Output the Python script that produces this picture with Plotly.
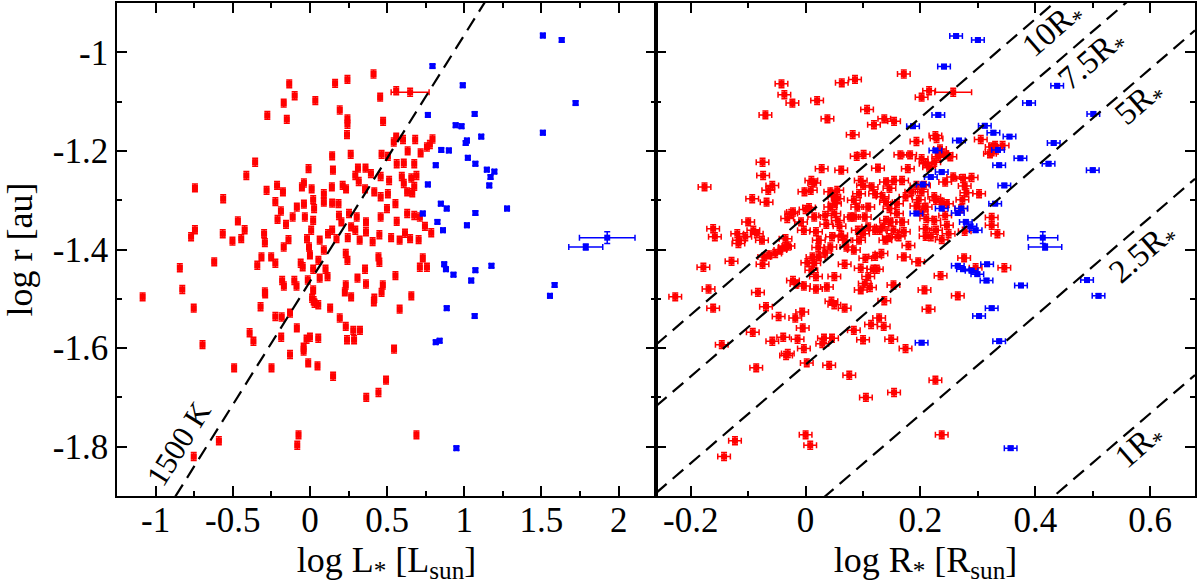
import math
import plotly.graph_objects as go

# ---------------- data: left panel (log L*) ----------------
L_red = [0.412,0.163,0.243,-0.134,-0.099,-0.170,0.035,0.455,0.559,
 -0.276,-0.150,0.193,0.243,0.243,0.474,0.240,-0.355,-0.412,-0.009,0.144,0.149,0.264,0.559,0.603,0.682,0.794,0.543,0.633,0.464,0.505,0.562,0.608,0.676,0.717,0.758,0.777,0.311,0.360,0.294,0.395,0.458,0.513,0.595,0.657,0.690,0.608,0.676,0.630,0.663,0.505,0.458,0.417,0.357,0.316,0.234,0.212,0.142,0.090,0.011,-0.039,-0.052,-0.213,-0.175,-0.281,-0.745,-0.562,-0.224,-0.085,-0.039,0.021,0.090,0.144,0.185,0.027,-0.188,-0.112,-0.033,0.021,-0.210,-0.155,-0.467,-0.423,-0.745,-0.770,-0.565,-0.502,-0.445,-0.297,-0.292,-0.139,-0.170,-0.019,0.008,0.063,0.117,0.144,0.172,0.188,0.253,0.303,0.363,0.204,0.267,0.294,0.322,0.245,0.363,0.406,0.450,0.458,0.499,0.554,0.562,0.526,0.581,0.616,0.649,0.704,0.676,0.630,0.712,0.745,0.786,0.731,0.712,0.758,0.554,0.444,0.450,0.472,0.357,0.363,0.232,0.243,0.308,0.232,0.226,0.267,0.101,0.114,0.090,0.055,0.021,-0.014,0.021,0.063,-0.060,-0.047,-0.006,0.000,-0.101,-0.087,-0.180,-0.169,-0.251,-0.224,-0.314,-0.341,-0.292,-0.620,-0.843,-0.827,-1.084,0.014,0.417,0.657,
 -0.753,-0.696,-0.491,-0.590,-0.753,-0.391,-0.366,-0.320,-0.290,-0.249,-0.224,-0.183,-0.186,-0.129,-0.129,-0.085,-0.041,-0.041,-0.022,0.000,-0.011,0.024,0.030,0.054,0.131,0.193,0.232,0.281,0.324,0.286,0.240,0.054,0.049,0.150,0.365,0.444,0.493,0.545,0.581,0.414,0.464,-0.074,-0.082,0.690]
r_red_L = [-1.044,-1.063,-1.055,-1.064,-1.088,-1.103,-1.098,-1.091,-1.078,
 -1.128,-1.136,-1.117,-1.135,-1.146,-1.140,-1.167,-1.223,-1.250,-1.236,-1.210,-1.239,-1.207,-1.172,-1.177,-1.177,-1.176,-1.182,-1.200,-1.207,-1.211,-1.226,-1.225,-1.226,-1.204,-1.192,-1.187,-1.235,-1.235,-1.250,-1.246,-1.252,-1.260,-1.252,-1.255,-1.250,-1.266,-1.272,-1.283,-1.285,-1.287,-1.293,-1.283,-1.277,-1.262,-1.277,-1.270,-1.273,-1.287,-1.277,-1.265,-1.273,-1.270,-1.283,-1.280,-1.275,-1.297,-1.303,-1.314,-1.308,-1.299,-1.304,-1.306,-1.307,-1.317,-1.322,-1.334,-1.334,-1.341,-1.339,-1.349,-1.342,-1.360,-1.360,-1.374,-1.368,-1.383,-1.378,-1.368,-1.386,-1.380,-1.395,-1.378,-1.361,-1.381,-1.368,-1.361,-1.378,-1.331,-1.327,-1.334,-1.344,-1.344,-1.354,-1.361,-1.381,-1.376,-1.364,-1.384,-1.370,-1.334,-1.317,-1.307,-1.343,-1.376,-1.381,-1.367,-1.378,-1.380,-1.331,-1.327,-1.334,-1.353,-1.366,-1.417,-1.436,-1.436,-1.453,-1.415,-1.426,-1.472,-1.440,-1.470,-1.408,-1.422,-1.458,-1.472,-1.486,-1.496,-1.440,-1.455,-1.401,-1.422,-1.440,-1.462,-1.482,-1.458,-1.428,-1.435,-1.395,-1.411,-1.463,-1.474,-1.463,-1.474,-1.415,-1.428,-1.415,-1.432,-1.486,-1.425,-1.437,-1.481,-1.496,-1.499,-1.499,-1.494,
 -1.519,-1.593,-1.640,-1.788,-1.820,-1.569,-1.586,-1.516,-1.490,-1.640,-1.536,-1.537,-1.578,-1.529,-1.613,-1.559,-1.606,-1.598,-1.582,-1.578,-1.630,-1.504,-1.509,-1.512,-1.519,-1.539,-1.556,-1.564,-1.564,-1.583,-1.583,-1.580,-1.636,-1.657,-1.700,-1.690,-1.665,-1.602,-1.521,-1.506,-1.487,-1.776,-1.797,-1.776]

L_red_wide = [0.649]
r_red_wide_L = [-1.081]
L_red_wide_err = [0.123]

L_blue = [1.509,1.631,0.794,0.990,1.721,0.764,1.067,0.944,0.982,1.110,1.017,1.009,1.509,0.851,0.900,1.023,1.072,0.815,1.146,1.195,1.170,1.162,0.764,0.848,0.886,1.277,0.731,1.072,0.826,1.017,0.862,0.870,0.881,0.930,1.072,1.176,1.045,1.585,1.555,0.886,1.067,0.815,0.840,0.949]
r_blue_L = [-0.966,-0.975,-1.028,-1.067,-1.103,-1.127,-1.125,-1.148,-1.150,-1.171,-1.179,-1.184,-1.163,-1.198,-1.199,-1.214,-1.226,-1.229,-1.238,-1.242,-1.253,-1.270,-1.268,-1.307,-1.317,-1.317,-1.327,-1.326,-1.344,-1.351,-1.361,-1.430,-1.440,-1.451,-1.442,-1.433,-1.463,-1.472,-1.494,-1.519,-1.535,-1.588,-1.585,-1.803]

L_blue_wide = [1.926, 1.787]
r_blue_wide_L = [-1.376, -1.395]
L_blue_wide_err = [0.18, 0.11]
r_blue_wide_err = [0.012, 0.006]

# ---------------- data: right panel (log R*) ----------------
R_red = [-0.042,-0.037,-0.023,-0.070,0.020,0.063,0.086,0.171,0.107,0.038,0.137,0.119,0.154,0.082,0.215,0.202,-0.075,-0.074,-0.176,-0.058,-0.065,-0.093,-0.068,-0.161,-0.158,-0.178,-0.129,-0.169,-0.083,-0.075,-0.072,-0.063,-0.053,-0.044,-0.036,-0.030,-0.035,-0.119,-0.116,-0.105,-0.100,-0.091,-0.085,-0.076,-0.117,-0.032,-0.025,-0.022,0.000,0.006,0.010,0.015,-0.002,0.009,0.028,0.062,-0.008,-0.003,0.015,0.018,0.023,0.034,0.036,0.043,0.050,0.051,0.055,0.056,0.043,0.050,0.056,0.059,0.046,0.043,0.034,0.023,0.015,0.010,0.018,0.003,0.012,0.022,-0.016,-0.022,-0.003,0.018,0.037,0.050,0.068,0.062,0.068,0.071,0.078,0.084,0.091,0.084,0.093,0.090,0.100,0.096,0.089,0.101,0.126,0.109,0.103,0.109,0.100,0.093,0.084,0.104,0.096,0.109,0.118,0.124,0.103,0.112,0.096,0.121,0.132,0.121,0.129,0.134,0.140,0.146,0.140,0.134,0.121,0.115,0.140,0.146,0.154,0.168,0.178,0.165,0.182,0.202,0.209,0.193,0.184,0.174,0.159,0.159,0.148,0.168,0.153,0.171,0.162,0.145,0.139,0.179,0.171,0.153,0.196,0.207,0.209,0.209,0.210,0.209,0.193,0.202,0.197,0.202,0.206,0.193,0.226,0.228,0.234,0.231,0.237,0.245,0.252,0.224,0.215,0.224,0.227,0.237,0.246,0.257,0.243,0.274,0.289,0.277,0.280,0.302,0.273,0.243,0.246,0.224,0.227,0.218,0.237,0.249,0.277,0.271,0.305,0.324,0.330,0.343,0.324,0.321,0.324,0.324,0.334,0.276,0.296,0.346,0.235,0.265,-0.227,
 -0.161,-0.146,-0.069,-0.047,-0.092,-0.058,-0.039,-0.018,-0.006,-0.005,-0.014,-0.003,-0.031,-0.034,-0.086,0.002,0.032,0.029,0.046,0.041,0.045,0.050,0.068,0.084,0.100,0.114,0.128,0.136,0.137,0.149,0.174,0.076,0.105,0.154,0.214,0.226,-0.123,-0.142,0.000,0.008,0.237]
r_red_R = [-1.064,-1.086,-1.103,-1.127,-1.098,-1.062,-1.055,-1.044,-1.116,-1.135,-1.135,-1.147,-1.140,-1.167,-1.078,-1.091,-1.223,-1.250,-1.273,-1.270,-1.280,-1.297,-1.304,-1.358,-1.374,-1.436,-1.424,-1.480,-1.487,-1.430,-1.415,-1.411,-1.408,-1.401,-1.395,-1.393,-1.378,-1.368,-1.381,-1.374,-1.344,-1.361,-1.368,-1.381,-1.388,-1.337,-1.327,-1.324,-1.319,-1.315,-1.260,-1.265,-1.283,-1.280,-1.236,-1.239,-1.344,-1.361,-1.334,-1.364,-1.381,-1.331,-1.349,-1.283,-1.293,-1.307,-1.280,-1.297,-1.314,-1.327,-1.341,-1.353,-1.374,-1.395,-1.407,-1.415,-1.428,-1.442,-1.455,-1.427,-1.415,-1.396,-1.470,-1.463,-1.474,-1.480,-1.476,-1.455,-1.430,-1.371,-1.381,-1.395,-1.334,-1.334,-1.361,-1.300,-1.287,-1.314,-1.270,-1.260,-1.211,-1.207,-1.235,-1.314,-1.334,-1.354,-1.368,-1.381,-1.401,-1.418,-1.438,-1.455,-1.440,-1.440,-1.469,-1.477,-1.482,-1.414,-1.408,-1.361,-1.361,-1.354,-1.341,-1.317,-1.304,-1.293,-1.287,-1.273,-1.263,-1.276,-1.260,-1.260,-1.236,-1.208,-1.208,-1.216,-1.226,-1.270,-1.283,-1.293,-1.307,-1.327,-1.344,-1.344,-1.361,-1.364,-1.374,-1.376,-1.381,-1.392,-1.415,-1.472,-1.425,-1.482,-1.373,-1.358,-1.337,-1.314,-1.312,-1.324,-1.299,-1.283,-1.270,-1.181,-1.169,-1.175,-1.196,-1.212,-1.205,-1.208,-1.212,-1.223,-1.233,-1.293,-1.300,-1.304,-1.307,-1.253,-1.263,-1.256,-1.254,-1.271,-1.285,-1.287,-1.299,-1.331,-1.351,-1.341,-1.361,-1.374,-1.380,-1.368,-1.363,-1.317,-1.177,-1.192,-1.189,-1.189,-1.202,-1.206,-1.335,-1.351,-1.368,-1.417,-1.437,-1.437,-1.453,-1.494,-1.496,
 -1.519,-1.593,-1.516,-1.536,-1.568,-1.586,-1.578,-1.539,-1.527,-1.559,-1.582,-1.601,-1.611,-1.615,-1.640,-1.630,-1.580,-1.591,-1.580,-1.635,-1.505,-1.512,-1.519,-1.564,-1.583,-1.552,-1.539,-1.556,-1.504,-1.582,-1.601,-1.655,-1.700,-1.690,-1.521,-1.665,-1.788,-1.820,-1.776,-1.797,-1.776]

R_red_wide = [0.257]
r_red_wide_R = [-1.081]
R_red_wide_err = [0.032]

R_blue = [0.262,0.300,0.241,0.438,0.389,0.231,0.501,0.187,0.312,0.327,0.355,0.267,0.432,0.335,0.226,0.374,0.423,0.337,0.500,0.237,0.218,0.204,0.346,0.330,0.237,0.271,0.193,0.265,0.279,0.287,0.296,0.265,0.274,0.289,0.299,0.316,0.315,0.375,0.490,0.510,0.324,0.302,0.202,0.337,0.357]
r_blue_R = [-0.967,-0.975,-1.029,-1.068,-1.103,-1.127,-1.125,-1.150,-1.149,-1.163,-1.171,-1.179,-1.184,-1.198,-1.199,-1.215,-1.226,-1.229,-1.239,-1.243,-1.253,-1.268,-1.270,-1.307,-1.317,-1.317,-1.327,-1.326,-1.344,-1.353,-1.361,-1.433,-1.440,-1.443,-1.450,-1.430,-1.463,-1.473,-1.462,-1.494,-1.519,-1.535,-1.589,-1.586,-1.803]

R_blue_wide = [0.413, 0.417]
r_blue_wide_R = [-1.376, -1.395]
R_blue_wide_err = [0.026, 0.029]

# reference lines
T_label = "1500 K"
logr_1500_at_L0 = -1.465          # log r of the 1500 K line at log L = 0
radius_multiples = [1, 2.5, 5, 7.5, 10]
radius_labels = ["1R<sub>*</sub>", "2.5R<sub>*</sub>", "5R<sub>*</sub>", "7.5R<sub>*</sub>", "10R<sub>*</sub>"]
radius_label_x = [0.583, 0.589, 0.583, 0.500, 0.431]
radius_label_y = [-1.800, -1.408, -1.104, -1.016, -0.955]
LOG_RSUN_AU = math.log10(0.00465047)

xL_range = [-1.25, 2.242]
xR_range = [-0.2605, 0.678]
y_range = [-1.9, -0.9]

FONT = "Liberation Serif"
RED = "#ff0000"
BLUE = "#0000ff"

fig = go.Figure()

def pts(x, y, color, xa, ya, ex, ey, exarr=None, eyarr=None):
    if exarr is None:
        errx = dict(type="constant", value=ex, color=color, thickness=1.5, width=3)
    else:
        errx = dict(type="data", array=exarr, color=color, thickness=1.5, width=3)
    if eyarr is None:
        erry = dict(type="constant", value=ey, color=color, thickness=1.5, width=3)
    else:
        erry = dict(type="data", array=eyarr, color=color, thickness=1.5, width=3)
    fig.add_trace(go.Scatter(x=x, y=y, mode="markers", xaxis=xa, yaxis=ya,
                             marker=dict(symbol="square", size=6, color=color, line=dict(width=0)),
                             error_x=errx, error_y=erry, showlegend=False, hoverinfo="x+y"))

# left panel
pts(L_red, r_red_L, RED, "x", "y", 0.012, 0.008)
pts(L_red_wide, r_red_wide_L, RED, "x", "y", None, 0.008, exarr=L_red_wide_err)
pts(L_blue, r_blue_L, BLUE, "x", "y", 0.012, 0.004)
pts(L_blue_wide, r_blue_wide_L, BLUE, "x", "y", None, None, exarr=L_blue_wide_err, eyarr=r_blue_wide_err)

# right panel
pts(R_red, r_red_R, RED, "x2", "y2", 0.011, 0.008)
pts(R_red_wide, r_red_wide_R, RED, "x2", "y2", None, 0.008, exarr=R_red_wide_err)
pts(R_blue, r_blue_R, BLUE, "x2", "y2", 0.011, 0.004)
pts(R_blue_wide, r_blue_wide_R, BLUE, "x2", "y2", None, None, exarr=R_blue_wide_err, eyarr=r_blue_wide_err)

DASH = "14px,8px"
# 1500 K line: log r = 0.5 log L + c
xl = [xL_range[0], xL_range[1]]
yl = [logr_1500_at_L0 + 0.5 * v for v in xl]
fig.add_trace(go.Scatter(x=xl, y=yl, mode="lines", xaxis="x", yaxis="y",
                         line=dict(color="black", width=2.2, dash=DASH),
                         showlegend=False, hoverinfo="skip"))

# k R* lines: log r = log R + log k + log(Rsun/au)
for k in radius_multiples:
    xr = [xR_range[0], xR_range[1]]
    yr = [v + math.log10(k) + LOG_RSUN_AU for v in xr]
    fig.add_trace(go.Scatter(x=xr, y=yr, mode="lines", xaxis="x2", yaxis="y2",
                             line=dict(color="black", width=2.2, dash=DASH),
                             showlegend=False, hoverinfo="skip"))

ann = [dict(x=-0.852, y=-1.793, xref="x", yref="y", text=T_label, showarrow=False,
            textangle=-58, font=dict(family=FONT, size=31, color="black"))]
for lab, ax_, ay_ in zip(radius_labels, radius_label_x, radius_label_y):
    ann.append(dict(x=ax_, y=ay_, xref="x2", yref="y2", text=lab, showarrow=False,
                    textangle=-41, font=dict(family=FONT, size=33, color="black")))

axis_common = dict(showline=True, linecolor="black", linewidth=1.6, mirror="allticks",
                   ticks="inside", ticklen=10, tickwidth=1.5, tickcolor="black",
                   showgrid=False, zeroline=False, automargin=False,
                   tickfont=dict(family=FONT, size=35, color="black"))

minor_common = dict(ticks="inside", ticklen=5, tickwidth=1.5, tickcolor="black", tick0=0, showgrid=False)

fig.update_layout(
    width=1200, height=588,
    margin=dict(l=117, r=5, t=3, b=92),
    paper_bgcolor="white", plot_bgcolor="white",
    font=dict(family=FONT, color="black"),
    xaxis=dict(domain=[0, 0.5], range=xL_range,
               tickvals=[-1, -0.5, 0, 0.5, 1, 1.5, 2],
               ticktext=["-1", "-0.5", "0", "0.5", "1", "1.5", "2"],
               minor=dict(dtick=0.25, **minor_common),
               ticklabelstandoff=-8,
               title=dict(text="log L<sub>*</sub> [L<sub>sun</sub>]", font=dict(family=FONT, size=36), standoff=0),
               **axis_common),
    xaxis2=dict(domain=[0.5, 1], range=xR_range, anchor="y2",
                tickvals=[-0.2, 0, 0.2, 0.4, 0.6],
                ticktext=["-0.2", "0", "0.2", "0.4", "0.6"],
                minor=dict(dtick=0.1, **minor_common),
                ticklabelstandoff=-8,
                title=dict(text="log R<sub>*</sub> [R<sub>sun</sub>]", font=dict(family=FONT, size=36), standoff=0),
                **axis_common),
    yaxis=dict(domain=[0, 1], range=y_range, anchor="x",
               tickvals=[-1.8, -1.6, -1.4, -1.2, -1.0],
               ticktext=["-1.8", "-1.6", "-1.4", "-1.2", "-1"],
               minor=dict(dtick=0.1, **minor_common),
               title=dict(text="log r [au]", font=dict(family=FONT, size=36), standoff=14),
               **axis_common),
    yaxis2=dict(domain=[0, 1], range=y_range, anchor="x2", matches="y",
                tickvals=[-1.8, -1.6, -1.4, -1.2, -1.0], showticklabels=False,
                minor=dict(dtick=0.1, **minor_common),
                **axis_common),
    annotations=ann,
)

fig.write_html("out.html", config={"displayModeBar": False},
               post_script="document.body.style.margin='0px';document.body.style.padding='0px';")
